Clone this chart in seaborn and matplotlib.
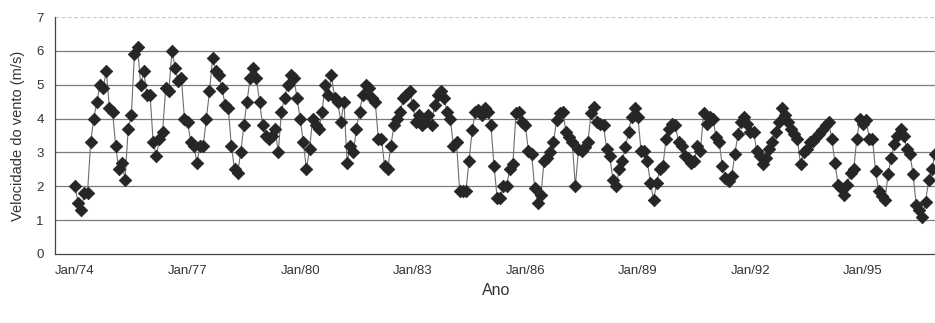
import numpy as np
import pandas as pd
import matplotlib
matplotlib.use("Agg")
import matplotlib.pyplot as plt
import seaborn as sns

# Monthly mean wind speed (m/s), Jan/1974 onwards
wind_speed = [
    2.0, 1.5, 1.3, 1.8, 1.8, 3.3, 4.0, 4.5, 5.0, 4.9, 5.4, 4.3,   # 1974
    4.2, 3.2, 2.5, 2.7, 2.2, 3.7, 4.1, 5.9, 6.1, 5.0, 5.4, 4.7,   # 1975
    4.7, 3.3, 2.9, 3.4, 3.6, 4.9, 4.8, 6.0, 5.5, 5.1, 5.2, 4.0,   # 1976
    3.9, 3.3, 3.2, 2.7, 3.2, 3.2, 4.0, 4.8, 5.8, 5.4, 5.3, 4.9,   # 1977
    4.4, 4.3, 3.2, 2.5, 2.4, 3.0, 3.8, 4.5, 5.2, 5.5, 5.2, 4.5,   # 1978
    3.8, 3.5, 3.4, 3.5, 3.7, 3.0, 4.2, 4.6, 5.0, 5.3, 5.2, 4.6,   # 1979
    4.0, 3.3, 2.5, 3.1, 4.0, 3.8, 3.7, 4.2, 5.0, 4.7, 5.3, 4.6,   # 1980
    4.5, 3.9, 4.5, 2.7, 3.2, 3.0, 3.7, 4.2, 4.7, 5.0, 4.9, 4.6,   # 1981
    4.5, 3.4, 3.4, 2.6, 2.5, 3.2, 3.8, 4.0, 4.2, 4.6, 4.7, 4.8,   # 1982
    4.4, 3.9, 4.1, 3.8, 3.9, 4.1, 3.8, 4.4, 4.7, 4.8, 4.6, 4.2,   # 1983
    4.0, 3.2, 3.3, 1.85, 1.85, 1.85, 2.75, 3.65, 4.2, 4.25, 4.1, 4.3,  # 1984
    4.2, 3.8, 2.6, 1.65, 1.65, 2.0, 2.0, 2.5, 2.65, 4.15, 4.2, 3.9,    # 1985
    3.8, 3.05, 2.95, 1.95, 1.5, 1.75, 2.75, 2.85, 3.0, 3.3, 3.95, 4.15,  # 1986
    4.2, 3.6, 3.45, 3.3, 2.0, 3.1, 3.05, 3.15, 3.3, 4.15, 4.35, 3.9,    # 1987
    3.85, 3.8, 3.1, 2.9, 2.2, 2.0, 2.5, 2.75, 3.15, 3.6, 4.05, 4.3,     # 1988
    4.05, 3.05, 3.05, 2.75, 2.1, 1.6, 2.1, 2.5, 2.6, 3.4, 3.7, 3.85,    # 1989
    3.8, 3.3, 3.2, 2.9, 2.85, 2.7, 2.75, 3.2, 3.05, 4.15, 3.85, 4.05,   # 1990
    4.0, 3.45, 3.3, 2.6, 2.25, 2.15, 2.3, 2.95, 3.55, 3.9, 4.05, 3.85,  # 1991
    3.6, 3.6, 3.05, 2.9, 2.65, 2.85, 3.1, 3.3, 3.6, 3.9, 4.3, 4.1,      # 1992
    3.9, 3.7, 3.55, 3.4, 2.65, 3.0, 3.1, 3.3, 3.35, 3.45, 3.55, 3.65,   # 1993
    3.8, 3.9, 3.4, 2.7, 2.05, 1.95, 1.75, 2.05, 2.4, 2.5, 3.4, 4.0,     # 1994
    3.85, 3.95, 3.4, 3.4, 2.45, 1.85, 1.7, 1.6, 2.35, 2.85, 3.25, 3.5,  # 1995
    3.7, 3.5, 3.1, 2.95, 2.35, 1.45, 1.3, 1.1, 1.55, 2.2, 2.5, 2.95,    # 1996
]

tick_years = [74, 77, 80, 83, 86, 89, 92, 95]
tick_labels = [f"Jan/{y:02d}" for y in tick_years]
y_ticks = [0, 1, 2, 3, 4, 5, 6, 7]

month_index = np.arange(len(wind_speed))
df = pd.DataFrame({"mes": month_index, "vel": wind_speed})

sns.set_theme(style="white")
plt.rcParams["font.family"] = ["Liberation Sans", "DejaVu Sans"]

fig = plt.figure(figsize=(9.35, 3.23), dpi=100)
ax = fig.add_axes([55 / 935, 69 / 323, 1 - 55 / 935 + 0.002, 237 / 323])

# horizontal grid; the top line is fainter
for v in y_ticks[1:-1]:
    ax.axhline(v, color="#7a7a7a", linewidth=0.9, zorder=0)
ax.axhline(y_ticks[-1], color="#c8c8c8", linewidth=0.9, linestyle=(0, (3, 2)), zorder=0)

sns.lineplot(data=df, x="mes", y="vel", ax=ax, color="#6e6e6e",
             linewidth=0.8, zorder=2, legend=False)
sns.scatterplot(data=df, x="mes", y="vel", ax=ax, marker="D", s=40,
                color="#262626", edgecolor="#262626", linewidth=0.6,
                zorder=3, legend=False)

ax.set_xlim(-6.4, 275.6)
ax.set_ylim(0, 7)
ax.set_yticks(y_ticks)
ax.set_yticklabels([str(v) for v in y_ticks], fontsize=9.5, color="#333333")
ax.set_xticks([(y - 74) * 12 for y in tick_years])
ax.set_xticklabels(tick_labels, fontsize=9.5, color="#333333")
ax.tick_params(axis="y", direction="out", length=4, width=0.8, colors="#333333", pad=4)
ax.tick_params(axis="x", direction="out", length=4, width=0.8, colors="#333333", pad=4)

for side in ["top", "right"]:
    ax.spines[side].set_visible(False)
for side in ["left", "bottom"]:
    ax.spines[side].set_color("#444444")
    ax.spines[side].set_linewidth(0.9)

ax.set_xlabel("Ano", fontsize=11.5, color="#333333", labelpad=4)
ax.set_ylabel("Velocidade do vento (m/s)", fontsize=10.5, color="#333333", labelpad=8)

fig.savefig("out.png", dpi=100, facecolor="white")
